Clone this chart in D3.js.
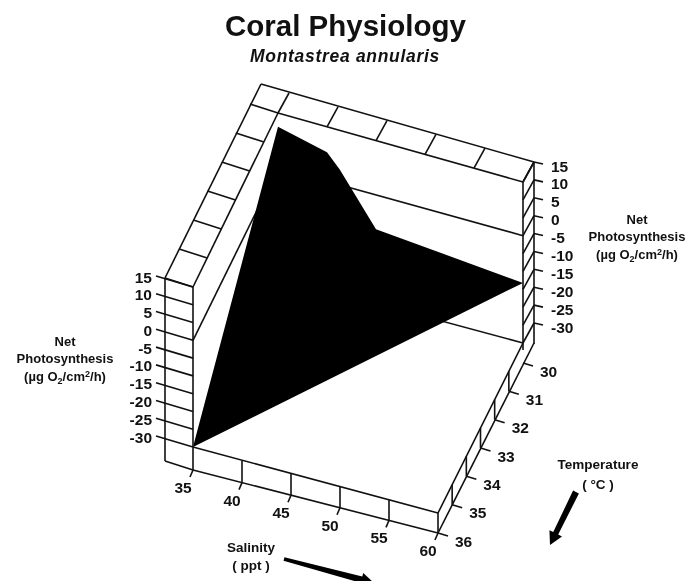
<!DOCTYPE html>
<html>
<head>
<meta charset="utf-8">
<script src="https://d3js.org/d3.v7.min.js"></script>
<style>
	html, body { margin: 0; padding: 0; background: #fff; }
	svg { display: block; filter: blur(0.45px); }
	text { font-family: 'Liberation Sans', Arial, sans-serif; font-weight: 700; fill: #111; }
</style>
</head>
<body>
<div id="chart"></div>
<script>
	// axis values
	const salinityTicks = [35, 40, 45, 50, 55, 60];
	const temperatureTicks = [30, 31, 32, 33, 34, 35, 36];
	const netTicks = [15, 10, 5, 0, -5, -10, -15, -20, -25, -30];

	// surface outline
	const surfaceSalinity = [35, 40, 41.3, 45, 60, 35];
	const surfaceTemperature = [30, 30, 30, 30, 30, 36];
	const surfaceNet = [11.2, 8, 4.2, -9.5, -13.2, -30];

	const width = 688;
	const height = 581;
	const ink = '#111';

	const svg = d3.select('#chart').append('svg')
		.attr('width', width)
		.attr('height', height);

	// each data axis maps to a screen offset, the sum gives an oblique projection
	const origin = [193, 447];
	const zMin = -30;
	const zMax = 15;
	const sX = d3.scaleLinear().domain([35, 60]).range([0, 245]);
	const sY = d3.scaleLinear().domain([35, 60]).range([0, 66]);
	const tX = d3.scaleLinear().domain([36, 30]).range([0, 85]);
	const tY = d3.scaleLinear().domain([36, 30]).range([0, -170]);
	const zFrac = d3.scaleLinear().domain([zMin, zMax]).range([0, 1]);
	// the original has slight perspective, the walls get taller towards the back
	const zSpan = d3.scaleLinear().domain([36, 30]).range([160, 164]);
	const topTilt = d3.scaleLinear().domain([35, 60]).range([0, 3]);

	const project = (s, t, z) => [
		origin[0] + sX(s) + tX(t),
		origin[1] + sY(s) + tY(t) - zFrac(z) * (zSpan(t) - topTilt(s)),
	];
	const shift = (p, dx, dy) => [p[0] + dx, p[1] + dy];

	// wall and slab thickness
	const leftWall = [-28, -9];
	const backWall = [11, -20];
	const slab = d3.scaleLinear().domain([35, 60]).range([23, 20]);

	function lineLayer() {
		const g = svg.append('g')
			.style('fill', 'none')
			.style('stroke', ink)
			.style('stroke-width', 1.6);
		return (a, b) => g.append('line')
			.attr('x1', a[0]).attr('y1', a[1])
			.attr('x2', b[0]).attr('y2', b[1]);
	}

	// wall zero lines and the far floor edge run behind the surface
	const seg = lineLayer();
	seg(project(35, 36, 0), project(35, 30, 0));
	seg(project(35, 30, 0), project(60, 30, 0));
	seg(project(35, 30, zMin), project(60, 30, zMin));

	const surface = d3.line()(surfaceSalinity.map((s, i) => project(s, surfaceTemperature[i], surfaceNet[i])));
	svg.append('path')
		.attr('d', surface + 'Z')
		.style('fill', '#000');

	const line2 = lineLayer();

	// left wall, front face
	const flTop = project(35, 36, zMax);
	const flLow = project(35, 36, zMin);
	const flBase = shift(flLow, 0, slab(35));
	line2(flTop, flBase);
	line2(shift(flTop, leftWall[0], leftWall[1]), shift(flBase, leftWall[0], leftWall[1]));
	line2(shift(flBase, leftWall[0], leftWall[1]), flBase);
	netTicks.forEach(z => {
		const p = project(35, 36, z);
		line2(shift(p, leftWall[0] - 9, leftWall[1] - 2), p);
	});

	// left wall, top strip
	const blTop = project(35, 30, zMax);
	const blOuter = shift(blTop, leftWall[0] + backWall[0], leftWall[1] + backWall[1]);
	line2(flTop, blTop);
	line2(shift(flTop, leftWall[0], leftWall[1]), blOuter);
	temperatureTicks.forEach(t => {
		const p = project(35, t, zMax);
		line2(shift(p, leftWall[0], leftWall[1]), p);
	});

	// back wall, top strip
	const brTop = project(60, 30, zMax);
	const brOuter = shift(brTop, backWall[0], backWall[1]);
	line2(blTop, brTop);
	line2(blOuter, brOuter);
	line2(blTop, shift(blTop, backWall[0], backWall[1]));
	salinityTicks.slice(1).forEach(s => {
		const p = project(s, 30, zMax);
		line2(p, shift(p, backWall[0], backWall[1]));
	});

	// right end of the back wall, hatched
	const brLow = project(60, 30, zMin);
	line2(brTop, shift(brLow, 0, 7));
	line2(brOuter, shift(brLow, backWall[0], backWall[1] + slab(60) + 1));
	netTicks.forEach(z => {
		const p = project(60, 30, z);
		const q = shift(p, backWall[0], backWall[1]);
		line2(p, q);
		line2(q, shift(q, 9, 2));
	});

	// floor front edge and its slab
	const frLow = project(60, 36, zMin);
	const frBase = shift(frLow, 0, slab(60));
	line2(flLow, frLow);
	line2(flBase, frBase);
	line2(frLow, frBase);
	salinityTicks.forEach((s, i) => {
		const p = project(s, 36, zMin);
		const b = shift(p, 0, slab(s));
		if (i > 0 && i < salinityTicks.length - 1) {
			line2(p, b);
		}
		line2(b, shift(b, -3, 7));
	});

	// floor right edge and its slab
	line2(frLow, brLow);
	line2(frBase, shift(brLow, backWall[0], backWall[1] + slab(60)));
	temperatureTicks.forEach(t => {
		const p = project(60, t, zMin);
		const b = shift(p, 0, slab(60));
		if (t > 30 && t < 36) {
			line2(p, b);
		}
		line2(b, shift(b, 10, 3));
	});

	// tick labels
	const labels = svg.append('g')
		.style('font-size', '15.5px');
	labels.selectAll('.left').data(netTicks).enter().append('text')
		.attr('class', 'left')
		.attr('text-anchor', 'end')
		.attr('x', d => project(35, 36, d)[0] + leftWall[0] - 13)
		.attr('y', d => project(35, 36, d)[1] + leftWall[1] + 4.5)
		.text(d => d);
	labels.selectAll('.right').data(netTicks).enter().append('text')
		.attr('class', 'right')
		.attr('text-anchor', 'start')
		.attr('x', d => project(60, 30, d)[0] + backWall[0] + 17)
		.attr('y', d => project(60, 30, d)[1] + backWall[1] + 9.5)
		.text(d => d);
	labels.selectAll('.sal').data(salinityTicks).enter().append('text')
		.attr('class', 'sal')
		.attr('text-anchor', 'middle')
		.attr('x', d => project(d, 36, zMin)[0] - 10)
		.attr('y', d => project(d, 36, zMin)[1] + slab(d) + 23)
		.text(d => d);
	labels.selectAll('.temp').data(temperatureTicks).enter().append('text')
		.attr('class', 'temp')
		.attr('text-anchor', 'start')
		.attr('x', d => project(60, d, zMin)[0] + 17)
		.attr('y', d => project(60, d, zMin)[1] + 33.5)
		.text(d => d);

	// titles
	svg.append('text')
		.attr('x', 345.5).attr('y', 36)
		.attr('text-anchor', 'middle')
		.style('font-size', '29.5px')
		.text('Coral Physiology');
	svg.append('text')
		.attr('x', 345).attr('y', 62)
		.attr('text-anchor', 'middle')
		.style('font-size', '17.5px')
		.style('letter-spacing', '0.7px')
		.style('font-style', 'italic')
		.text('Montastrea annularis');

	// axis captions
	function netCaption(cx, top) {
		const g = svg.append('g')
			.attr('text-anchor', 'middle')
			.style('font-size', '13px');
		g.append('text').attr('x', cx).attr('y', top).text('Net');
		g.append('text').attr('x', cx).attr('y', top + 17).text('Photosynthesis');
		const unit = g.append('text').attr('x', cx).attr('y', top + 35);
		unit.append('tspan').text('(µg O');
		unit.append('tspan').attr('dy', 3).style('font-size', '9px').text('2');
		unit.append('tspan').attr('dy', -3).text('/cm');
		unit.append('tspan').attr('dy', -4).style('font-size', '9px').text('2');
		unit.append('tspan').attr('dy', 4).text('/h)');
	}
	netCaption(65, 346);
	netCaption(637, 224);

	const caption = (x, y, txt) => svg.append('text')
		.attr('x', x).attr('y', y)
		.attr('text-anchor', 'middle')
		.style('font-size', '13.5px')
		.text(txt);
	caption(251, 552, 'Salinity');
	caption(251, 570, '( ppt )');
	caption(598, 469, 'Temperature');
	caption(598, 489, '( °C )');

	// direction arrows, tapered shaft with a short head
	function arrow(from, to, tail, shaft) {
		const dx = to[0] - from[0];
		const dy = to[1] - from[1];
		const len = Math.hypot(dx, dy);
		const ux = dx / len;
		const uy = dy / len;
		const neck = [to[0] - ux * 13, to[1] - uy * 13];
		const side = (p, w) => [p[0] - uy * w, p[1] + ux * w];
		svg.append('path')
			.attr('d', d3.line()([
				side(from, tail / 2),
				side(neck, shaft / 2),
				side(neck, 7),
				to,
				side(neck, -7),
				side(neck, -shaft / 2),
				side(from, -tail / 2),
			]) + 'Z')
			.style('fill', '#000');
	}
	arrow([284, 559], [374, 583], 3.5, 6.5);
	arrow([576, 492], [550, 545], 6.5, 5.5);
</script>
</body>
</html>
